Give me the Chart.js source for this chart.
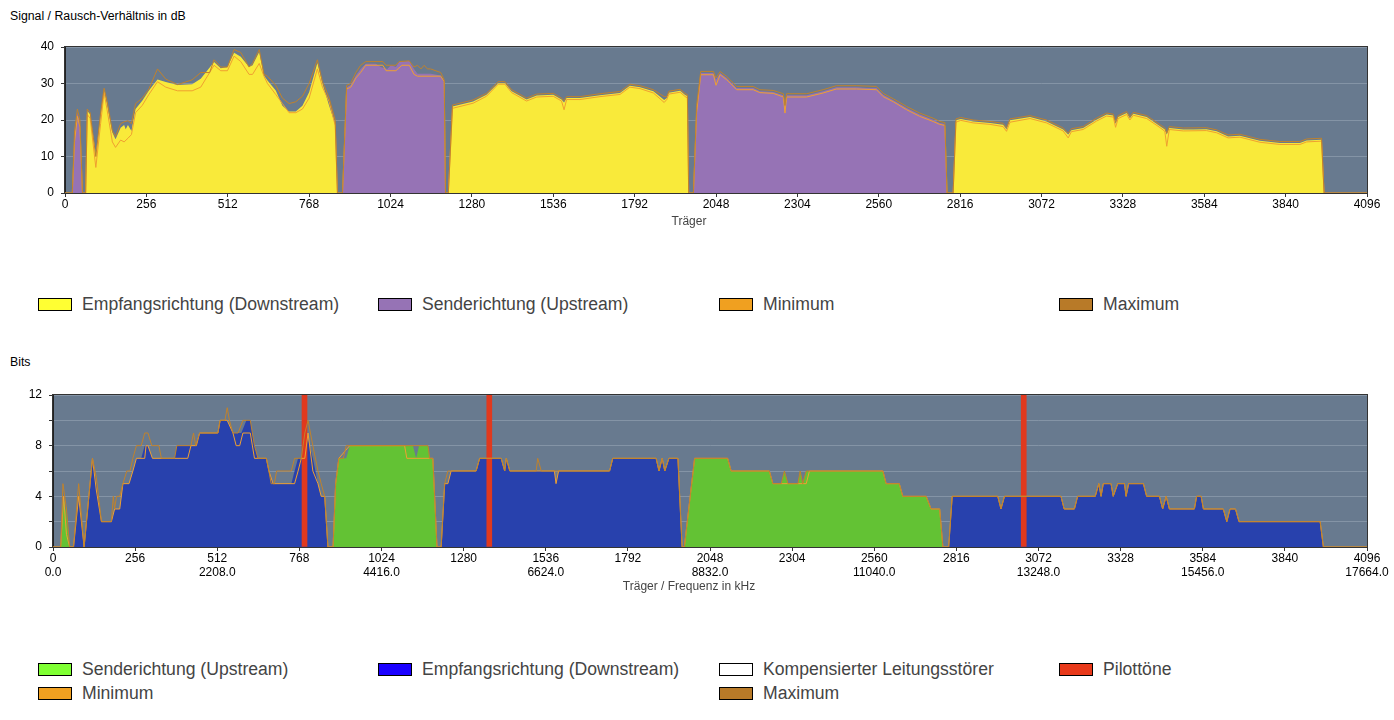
<!DOCTYPE html>
<html>
<head>
<meta charset="utf-8">
<script src="https://cdn.jsdelivr.net/npm/chart.js@4.4.1/dist/chart.umd.min.js"></script>
<style>
    body { margin: 0; background: #fff; width: 1394px; height: 720px; position: relative; overflow: hidden;
           font-family: "Liberation Sans", Arial, sans-serif; }
    .chart-title { position: absolute; left: 10px; font-size: 12.3px; color: #000; }
    .axis-title { position: absolute; left: 0; width: 1378px; text-align: center; font-size: 12px;
                  line-height: 14px; color: #444; }
    .chart-box { position: absolute; left: 0; }
    .legend-item { position: absolute; height: 20px; display: flex; align-items: center;
                   font-size: 17.6px; color: #444; white-space: nowrap; }
    .swatch { width: 32px; height: 11px; border: 1px solid #000; margin-right: 10px; }
</style>
</head>
<body>

<div class="chart-title" style="top:9px">Signal / Rausch-Verhältnis in dB</div>
<div class="chart-box" style="top:32px"><canvas id="snrChart" width="1394" height="198"></canvas></div>
<div class="axis-title" style="top:214px">Träger</div>

<div class="legend-item" style="left:38px;top:294px"><div class="swatch" style="background:#ffff33"></div>Empfangsrichtung (Downstream)</div>
<div class="legend-item" style="left:378px;top:294px"><div class="swatch" style="background:#9673b5"></div>Senderichtung (Upstream)</div>
<div class="legend-item" style="left:719px;top:294px"><div class="swatch" style="background:#f0a020"></div>Minimum</div>
<div class="legend-item" style="left:1059px;top:294px"><div class="swatch" style="background:#b87a28"></div>Maximum</div>

<div class="chart-title" style="top:355px">Bits</div>
<div class="chart-box" style="top:380px"><canvas id="bitsChart" width="1394" height="215"></canvas></div>
<div class="axis-title" style="top:579px">Träger / Frequenz in kHz</div>

<div class="legend-item" style="left:38px;top:659px"><div class="swatch" style="background:#7fff33"></div>Senderichtung (Upstream)</div>
<div class="legend-item" style="left:378px;top:659px"><div class="swatch" style="background:#1a00ff"></div>Empfangsrichtung (Downstream)</div>
<div class="legend-item" style="left:719px;top:659px"><div class="swatch" style="background:#ffffff"></div>Kompensierter Leitungsstörer</div>
<div class="legend-item" style="left:1059px;top:659px"><div class="swatch" style="background:#e8391a"></div>Pilottöne</div>
<div class="legend-item" style="left:38px;top:683px"><div class="swatch" style="background:#f0a020"></div>Minimum</div>
<div class="legend-item" style="left:719px;top:683px"><div class="swatch" style="background:#b87a28"></div>Maximum</div>

<script>
// Daten: [Träger, Wert]

// SNR (dB)
const snrDownstream = [
    [0,0],[65,0],[70,22.5],[79,21.6],[97,10.6],[112,21.2],[123,28.1],[133,23.9],[149,16.6],[159,14.7],[175,17.9],[186,18.6],[191,17.5],[198,18.6],[209,17],[222,23],[243,25.3],[264,28.1],[291,31.1],[317,30.4],[354,29.6],[400,29.8],[427,31.3],[469,35.9],[490,34.2],[511,34.5],[532,38.4],[553,37.3],[579,34.5],[590,35],[611,38.6],[626,32.2],[637,30.8],[663,28.1],[684,23.9],[705,22.3],[726,22.3],[747,23.9],[768,27.6],[794,35.6],[810,29.9],[831,23.9],[850,18.9],[857,0],
    [1206,0],[1219,23.7],[1284,25.1],[1326,26.9],[1363,30.1],[1384,30.1],[1405,27.9],[1452,25.6],[1484,26.7],[1536,26.9],[1562,25.6],[1570,24.8],[1578,26],[1620,26],[1683,26.8],[1746,27.4],[1777,29.4],[1809,29],[1851,27.9],[1885,25.5],[1893,26],[1900,27.5],[1935,28],[1950,26.9],[1958,26.5],[1962,0],
    [2794,0],[2803,19.9],[2818,20.3],[2857,19.6],[2910,19.2],[2951,18.7],[2962,17.5],[2973,19.9],[3036,20.8],[3088,19.6],[3140,17.4],[3156,16],[3166,17.2],[3203,17.8],[3245,20.1],[3277,21.5],[3298,21.2],[3305,19],[3313,20.8],[3340,21.9],[3350,20.5],[3361,21.7],[3403,20.8],[3445,18.3],[3460,17.4],[3466,16],[3474,17.8],[3518,17.4],[3550,17.4],[3591,17.5],[3623,16.9],[3659,15.5],[3696,15.7],[3759,14.3],[3822,13.7],[3885,13.7],[3906,14.4],[3953,14.6],[3961,0],[4096,0]
];
const snrUpstream = [
    [0,0],[23,0],[30,15.6],[39,22],[47,19.3],[55,0],
    [873,0],[886,29],[899,29.6],[915,32.2],[930,34],[946,35.4],[978,35.4],[993,34.5],[1014,34],[1025,35],[1041,34.5],[1051,35.9],[1083,36.2],[1098,34],[1109,32.7],[1151,32.7],[1182,32.2],[1193,30.4],[1197,0],
    [1977,0],[1987,23],[2000,32.9],[2040,32.9],[2048,31],[2061,32.9],[2082,31.5],[2113,28.8],[2165,28.8],[2186,27.9],[2228,27.7],[2260,26.8],[2265,23],[2270,26.8],[2333,26.8],[2385,27.9],[2427,29],[2490,29],[2522,28.8],[2553,28.8],[2574,26.9],[2606,25.4],[2648,23.3],[2689,21.5],[2731,20.1],[2752,19.2],[2768,18.9],[2775,0],
    [4096,0]
];
const snrMin = [
    [0,0],[23,0],[30,14],[39,21],[47,18],[55,0],
    [65,0],[70,21.5],[79,20.5],[97,7],[112,19],[123,27.5],[133,22.5],[149,14],[159,12.5],[175,14.5],[186,14],[198,15],[209,16],[222,22],[243,24],[264,27],[291,30.5],[317,29],[354,28],[400,28],[427,29],[469,35],[490,33.5],[511,33.5],[532,37.5],[553,36],[579,32.5],[590,32.5],[611,35.5],[626,32],[637,30],[663,27],[684,24.5],[705,22],[726,22],[747,23],[768,26],[794,34],[810,29],[831,25],[850,18.5],[857,0],
    [873,0],[886,28.5],[899,29],[915,31.5],[930,33],[946,35],[1000,35],[1010,33.5],[1041,33.5],[1060,35],[1083,35],[1098,32.5],[1109,32],[1182,32],[1193,30.5],[1197,0],
    [1206,0],[1219,23.2],[1284,24.6],[1326,26.5],[1363,29.8],[1384,29.8],[1405,27.5],[1452,25.2],[1484,26.3],[1536,26.5],[1562,25.2],[1570,22.8],[1578,25.6],[1620,25.6],[1683,26.4],[1746,27],[1777,29],[1809,28.6],[1851,27.4],[1885,24.8],[1893,25.6],[1900,27.1],[1935,27.6],[1950,26.5],[1958,26],[1962,0],
    [1977,0],[1987,22],[2000,32.4],[2040,32.4],[2048,29.5],[2061,32.4],[2082,31],[2113,28.3],[2165,28.3],[2186,27.5],[2228,27.3],[2260,26.3],[2265,21.9],[2270,26.3],[2333,26.3],[2385,27.4],[2427,28.5],[2490,28.5],[2553,28.3],[2574,26.4],[2606,25],[2648,22.8],[2689,21],[2731,19.6],[2752,18.8],[2768,18.5],[2775,0],
    [2794,0],[2803,19.4],[2818,19.9],[2857,19.2],[2910,18.8],[2951,18.2],[2962,16.9],[2973,19.4],[3036,20.4],[3088,19.2],[3140,17],[3156,15.1],[3166,16.8],[3203,17.4],[3245,19.7],[3277,21.1],[3298,20.8],[3305,18],[3313,20.4],[3340,21.5],[3350,20],[3361,21.3],[3403,20.4],[3445,17.9],[3460,16.9],[3466,12.8],[3474,17.4],[3518,17],[3591,17.1],[3623,16.5],[3659,15.1],[3696,15.3],[3759,13.9],[3822,13.3],[3885,13.3],[3906,14],[3953,14.2],[3961,0],[4096,0]
];
const snrMax = [
    [0,0],[23,0],[30,17],[39,23],[47,20],[55,0],
    [65,0],[70,23],[79,22],[97,10],[112,22],[123,28.7],[133,25],[149,17],[159,15.5],[175,19],[186,19.5],[198,19.8],[209,19],[222,24.5],[243,26],[264,28.5],[291,34],[317,31.2],[354,29.7],[400,31],[427,33],[455,33],[469,36.5],[490,34.5],[511,34.5],[532,39.3],[553,38.5],[579,34.5],[590,35.5],[611,39.3],[626,32.5],[637,32],[663,29.5],[684,26],[705,24.5],[726,25],[747,26.5],[768,30],[794,36.5],[810,30.5],[831,26],[850,20],[857,0],
    [873,0],[886,29.5],[899,30],[915,33],[930,35],[946,36],[1000,36],[1010,35],[1041,35],[1051,36],[1083,36.2],[1098,34.5],[1109,35],[1120,34],[1130,35],[1140,34],[1150,34],[1182,33],[1193,31],[1197,0],
    [1206,0],[1219,24.1],[1284,25.5],[1326,27.3],[1363,30.5],[1384,30.5],[1405,28.3],[1452,26],[1484,27.1],[1536,27.3],[1562,26],[1570,25.3],[1578,26.4],[1620,26.4],[1683,27.2],[1746,27.8],[1777,29.8],[1809,29.4],[1851,28.3],[1885,26.4],[1893,26.4],[1900,27.9],[1935,28.4],[1950,27.3],[1958,26.9],[1962,0],
    [1977,0],[1987,24],[2000,33.3],[2040,33.3],[2048,31.5],[2061,33.3],[2082,31.9],[2113,29.2],[2165,29.2],[2186,28.3],[2228,28.1],[2260,27.2],[2265,24],[2270,27.2],[2333,27.2],[2385,28.3],[2427,29.4],[2490,29.4],[2553,29.2],[2574,27.3],[2606,25.8],[2648,23.7],[2689,21.9],[2731,20.5],[2752,19.6],[2768,19.3],[2775,0],
    [2794,0],[2803,20.3],[2818,20.7],[2857,20],[2910,19.6],[2951,19.1],[2962,17.9],[2973,20.3],[3036,21.2],[3088,20],[3140,17.8],[3156,16.4],[3166,17.6],[3203,18.2],[3245,20.5],[3277,21.9],[3298,21.6],[3305,19.4],[3313,21.2],[3340,22.3],[3350,20.9],[3361,22.1],[3403,21.2],[3445,18.7],[3460,17.8],[3466,16.4],[3474,18.2],[3518,17.8],[3591,17.9],[3623,17.3],[3659,15.9],[3696,16.1],[3759,14.7],[3822,14.1],[3885,14.1],[3906,14.8],[3953,15],[3961,0],[4096,0]
];

// Bits pro Träger
const bitsDownstream = [
    [0,0],[64,0],[80,4],[97,0],[123,7],[135,5],[151,2],[182,2],[192,3],[208,3],[218,5],[237,5],[249,6],[260,7],[275,7],[286,8],[296,8],[310,7],[379,7],[386,8],[447,8],[457,9],[514,9],[521,10],[543,10],[561,9],[577,9],[587,9],[603,10],[615,10],[628,8],[639,7],[665,7],[673,6],[686,5],[743,5],[753,6],[764,7],[774,7],[790,9],[810,7],[826,5],[836,4],[847,4],[857,0],
    [1210,0],[1221,5],[1231,5],[1241,6],[1319,6],[1330,7],[1397,7],[1408,6],[1413,7],[1424,6],[1506,6],[1563,6],[1568,5],[1576,6],[1735,6],[1745,7],[1880,7],[1889,6],[1899,7],[1907,6],[1920,7],[1948,7],[1961,0],
    [2792,0],[2803,4],[2945,4],[2955,3],[2966,4],[3142,4],[3152,3],[3184,3],[3194,4],[3249,4],[3260,5],[3267,4],[3274,5],[3298,5],[3305,4],[3319,5],[3340,5],[3345,4],[3353,5],[3399,5],[3409,4],[3449,4],[3459,3],[3470,4],[3480,3],[3558,3],[3565,4],[3579,4],[3586,3],[3648,3],[3659,2],[3669,3],[3686,3],[3697,2],[3950,2],[3960,0],[4096,0]
];
const bitsUpstream = [
    [0,0],[24,0],[33,4],[42,2.5],[52,0],
    [873,0],[881,5],[891,7],[914,7],[925,8],[1122,8],[1132,7],[1141,8],[1169,8],[1174,7],[1184,7],[1197,0],
    [1968,0],[2000,7],[2103,7],[2114,6],[2233,6],[2244,5],[2270,5],[2280,6],[2291,5],[2322,5],[2329,6],[2337,5],[2348,6],[2587,6],[2597,5],[2638,5],[2649,4],[2722,4],[2737,3],[2764,3],[2774,0],
    [4096,0]
];
const bitsMin = [
    [0,0],[24,0],[33,4],[42,1],[52,0],[64,0],[80,4],[97,0],[123,7],[135,4.5],[151,2],[182,2],[192,3],[208,3],[218,5],[237,5],[249,6],[260,7],[286,7],[290,8],[296,8],[310,7],[379,7],[420,7],[430,8],[447,8],[457,9],[514,9],[521,10],[543,10],[561,9],[571,8],[582,8],[592,9],[615,9],[628,7],[665,7],[673,6],[686,5],[753,5],[764,6],[774,7],[785,7],[795,9],[810,6],[826,5],[836,4],[847,4],[857,0],
    [873,0],[881,5],[891,7],[925,8],[1096,8],[1103,7],[1184,7],[1197,0],
    [1210,0],[1221,5],[1231,5],[1241,6],[1319,6],[1330,7],[1397,7],[1408,6],[1413,7],[1424,6],[1563,6],[1568,5],[1576,6],[1735,6],[1745,7],[1880,7],[1889,6],[1899,7],[1907,6],[1920,7],[1948,7],[1961,0],
    [1968,0],[2000,7],[2103,7],[2114,6],[2233,6],[2244,5],[2348,5],[2358,6],[2587,6],[2597,5],[2638,5],[2649,4],[2722,4],[2737,3],[2764,3],[2774,0],
    [2792,0],[2803,4],[2945,4],[2955,3],[2966,4],[3142,4],[3152,3],[3184,3],[3194,4],[3249,4],[3260,5],[3267,4],[3274,5],[3298,5],[3305,4],[3319,5],[3340,5],[3345,4],[3353,5],[3399,5],[3409,4],[3449,4],[3459,3],[3470,4],[3480,3],[3558,3],[3565,4],[3579,4],[3586,3],[3648,3],[3659,2],[3669,3],[3686,3],[3697,2],[3950,2],[3960,0],[4096,0]
];
const bitsMax = [
    [0,0],[24,0],[31,5],[42,3],[52,0],[64,0],[80,5],[97,0],[123,7],[135,5.5],[151,2],[182,2],[188,4],[192,3],[198,4],[208,4],[218,5],[230,6],[240,6],[249,7],[260,8],[275,8],[286,9],[296,9],[308,8],[330,8],[338,7],[379,7],[386,8],[430,8],[438,9],[445,8],[457,9],[514,9],[521,10],[536,10],[543,11],[550,10],[561,9],[577,9],[592,10],[615,10],[628,8],[639,7],[665,7],[673,6],[680,5],[690,5],[697,6],[743,6],[753,7],[774,7],[785,9],[795,10],[810,8],[826,6],[836,5],[847,4],[857,0],
    [873,0],[881,5],[891,7],[905,7],[914,8],[1169,8],[1174,7],[1184,7],[1197,0],
    [1210,0],[1221,5],[1231,6],[1319,6],[1330,7],[1397,7],[1408,6],[1413,7],[1424,6],[1506,6],[1511,7],[1522,6],[1735,6],[1745,7],[1880,7],[1889,6],[1899,7],[1907,6],[1920,7],[1948,7],[1961,0],
    [1968,0],[2000,7],[2103,7],[2114,6],[2233,6],[2244,5],[2270,5],[2280,6],[2291,5],[2322,5],[2329,6],[2337,5],[2348,6],[2587,6],[2597,5],[2638,5],[2649,4],[2722,4],[2737,3],[2764,3],[2774,0],
    [2792,0],[2803,4],[2945,4],[2955,3],[2966,4],[3142,4],[3152,3],[3184,3],[3194,4],[3249,4],[3260,5],[3267,4],[3274,5],[3298,5],[3305,4],[3319,5],[3340,5],[3345,4],[3353,5],[3399,5],[3409,4],[3449,4],[3459,3],[3470,4],[3480,3],[3558,3],[3565,4],[3579,4],[3586,3],[3648,3],[3659,2],[3669,3],[3686,3],[3697,2],[3950,2],[3960,0],[4096,0]
];
const pilotCarriers = [784, 1360, 3026];

// Achsenbeschriftung
const freqLabels = ['0.0', '2208.0', '4416.0', '6624.0', '8832.0', '11040.0', '13248.0', '15456.0', '17664.0'];
const bitsTickLabels = [0, 4, 8, 12];

Chart.defaults.font.family = "'Liberation Sans', Arial, sans-serif";
Chart.defaults.font.size = 12;
Chart.defaults.color = '#000';

// Hintergrund + Rahmen des Plotbereichs
const plotFrame = {
    id: 'plotFrame',
    beforeDraw(chart) {
        const { ctx, chartArea: a } = chart;
        ctx.save();
        ctx.fillStyle = '#687a8f';
        ctx.fillRect(a.left, a.top, a.right - a.left, a.bottom - a.top);
        ctx.restore();
    },
    afterDraw(chart) {
        const { ctx, chartArea: a } = chart;
        ctx.save();
        ctx.strokeStyle = '#333';
        ctx.lineWidth = 1;
        ctx.strokeRect(Math.round(a.left) - 0.5, Math.round(a.top) - 0.5,
                       Math.round(a.right - a.left) + 1, Math.round(a.bottom - a.top) + 1);
        ctx.restore();
    }
};

function areaSet(data, color) {
    return { data, backgroundColor: color, borderWidth: 0, fill: 'origin', pointRadius: 0, tension: 0, order: 2 };
}
function lineSet(data, color) {
    return { data, borderColor: color, borderWidth: 1, fill: false, pointRadius: 0, tension: 0, order: 0 };
}

// Achsentitel kommen als HTML (zentriert über der Seite, nicht über dem Plot)
function xScale(heightPx, labelCb) {
    return {
        type: 'linear', min: 0, max: 4096, offset: false,
        afterFit: s => { s.height = heightPx; },
        ticks: { stepSize: 256, autoSkip: false, maxRotation: 0, padding: 1,
                 font: { size: 12, lineHeight: 1.15 }, callback: labelCb },
        grid: { drawOnChartArea: false, tickLength: 4, color: '#333', offset: false },
        border: { color: '#222' }
    };
}

function yScale(maxVal, step, widthPx, labelCb) {
    return {
        min: 0, max: maxVal,
        afterFit: s => { s.width = widthPx; },
        ticks: { stepSize: step, padding: 7, callback: labelCb },
        grid: { color: '#8494a6', tickLength: 4, tickColor: '#333' },
        border: { color: '#222' }
    };
}

// 1. SNR-Diagramm
new Chart(document.getElementById('snrChart'), {
    type: 'line',
    data: {
        datasets: [
            lineSet(snrMax, '#c0822c'),
            lineSet(snrMin, '#f0a030'),
            areaSet(snrUpstream, '#9673b5'),
            areaSet(snrDownstream, '#f9ea3a')
        ]
    },
    options: {
        responsive: false, animation: false,
        layout: { padding: { top: 15, right: 27, left: 0, bottom: 0 } },
        plugins: { legend: { display: false }, tooltip: { enabled: false } },
        scales: {
            x: xScale(37, v => String(v)),
            y: yScale(40, 10, 65, v => String(v))
        }
    },
    plugins: [plotFrame]
});

// 2. Bits-Diagramm
new Chart(document.getElementById('bitsChart'), {
    type: 'line',
    data: {
        datasets: [
            lineSet(bitsMax, '#c0822c'),
            lineSet(bitsMin, '#f0a030'),
            { type: 'bar', data: pilotCarriers.map(c => ({ x: c, y: 12 })), backgroundColor: '#e0391e',
              barThickness: 5, grouped: false, order: 1 },
            areaSet(bitsUpstream, '#63c234'),
            areaSet(bitsDownstream, '#2841ad')
        ]
    },
    options: {
        responsive: false, animation: false,
        layout: { padding: { top: 15, right: 27, left: 0, bottom: 0 } },
        plugins: { legend: { display: false }, tooltip: { enabled: false } },
        scales: {
            x: xScale(48, v => [String(v), v % 512 === 0 ? freqLabels[v / 512] : '']),
            y: yScale(12, 2, 53, v => bitsTickLabels.includes(v) ? String(v) : '')
        }
    },
    plugins: [plotFrame]
});
</script>
</body>
</html>
